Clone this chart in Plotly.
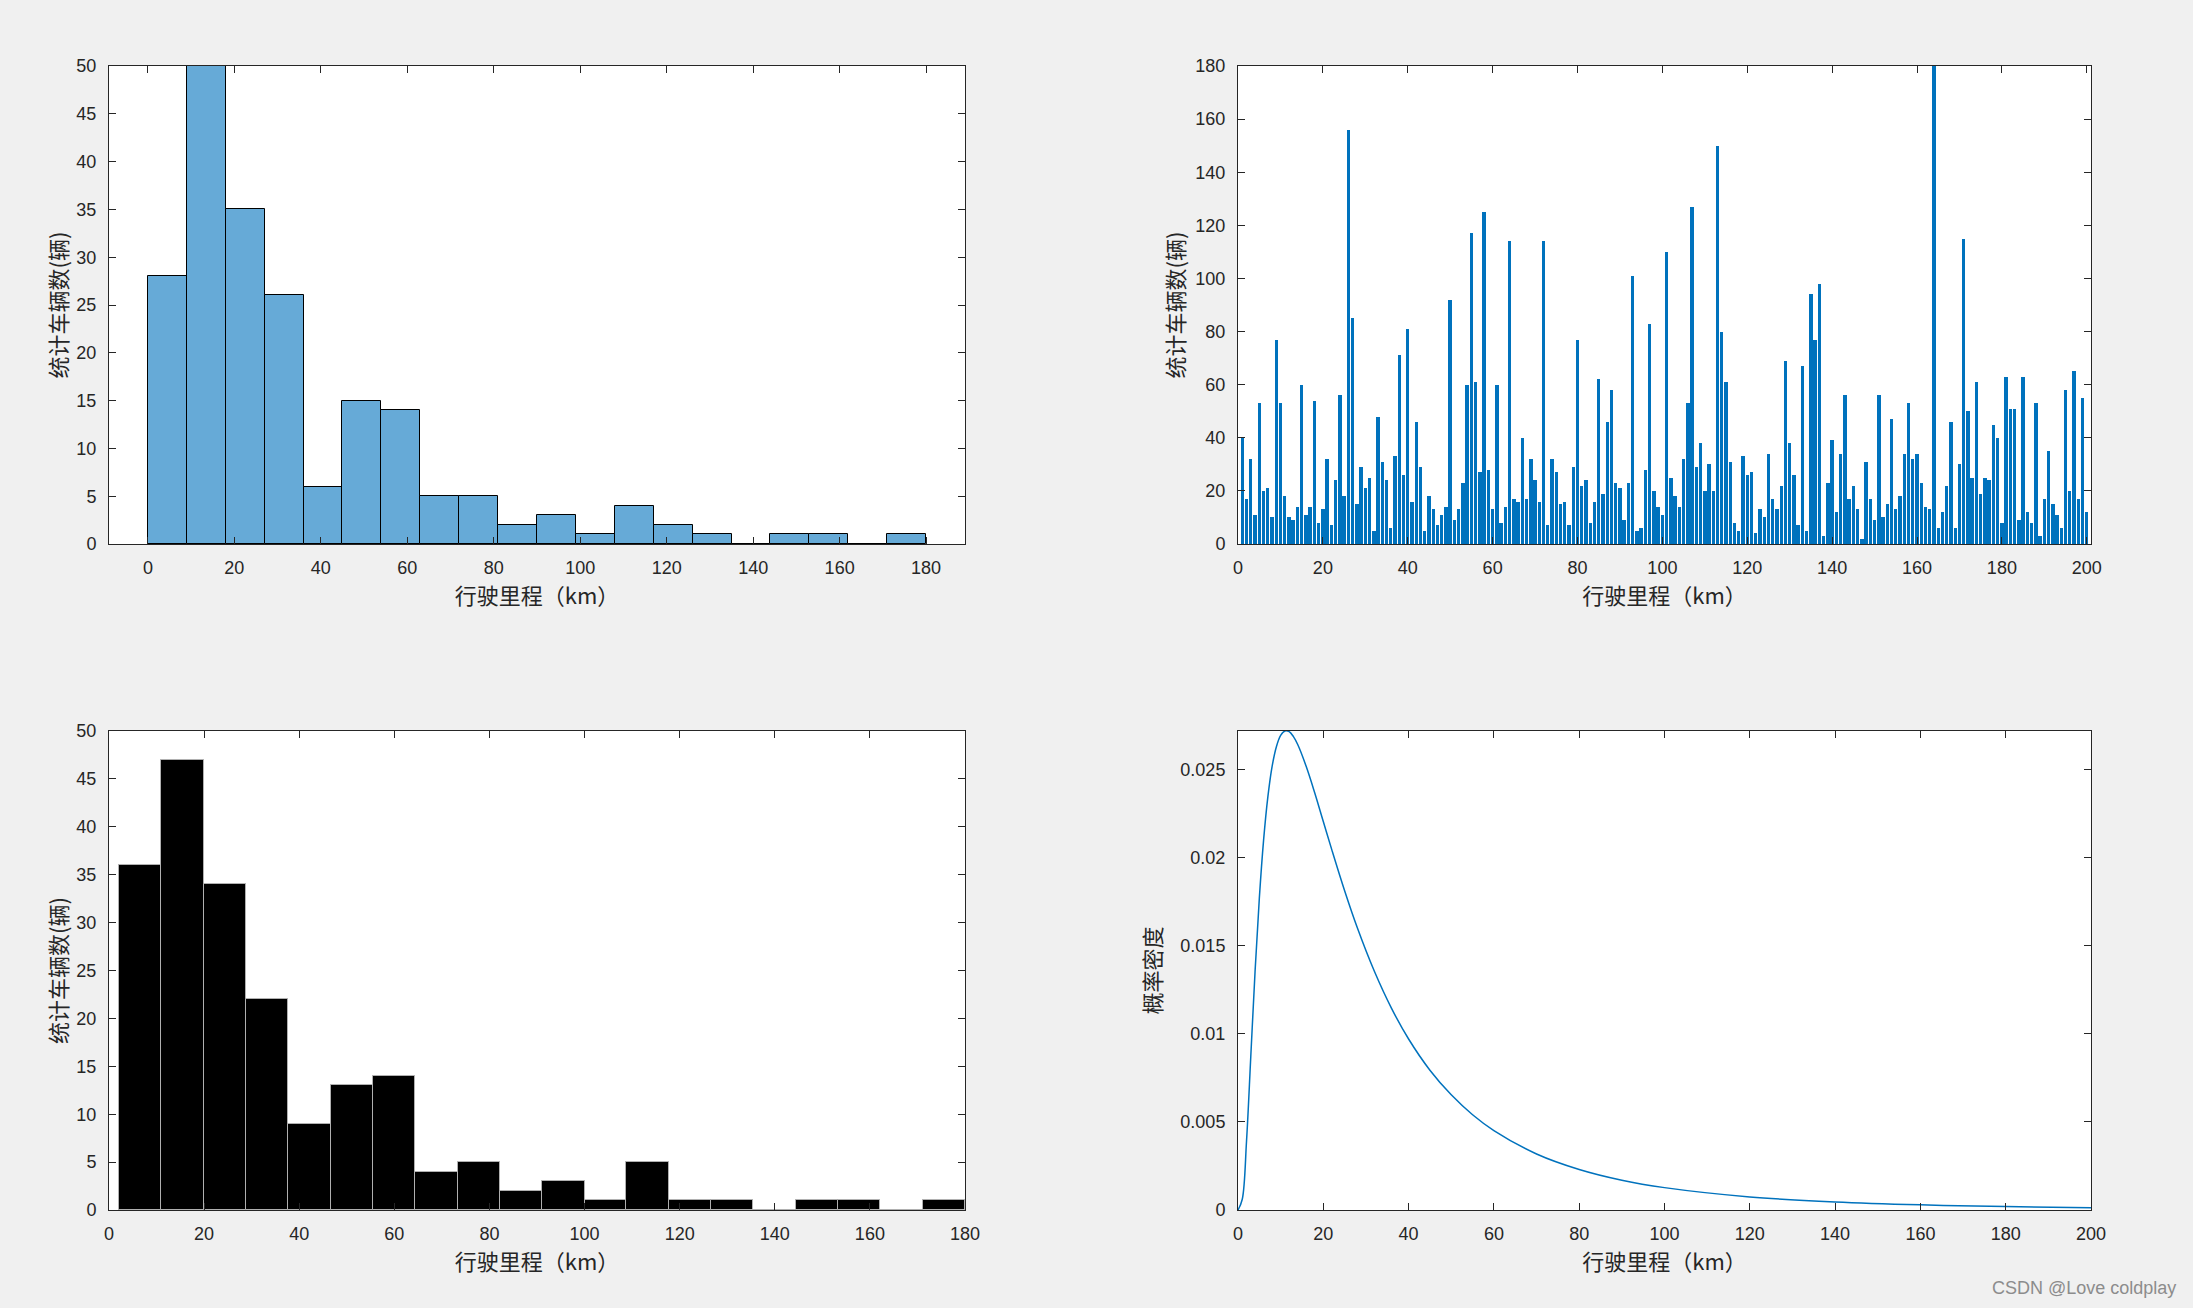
import plotly.graph_objects as go
import numpy as np

# ---------------- data ----------------
# top-left histogram (20 bins, width 9, 0..180)
hist1_edges = [0, 9, 18, 27, 36, 45, 54, 63, 72, 81, 90, 99, 108, 117, 126, 135, 144, 153, 162, 171, 180]
hist1_counts = [28, 50, 35, 26, 6, 15, 14, 5, 5, 2, 3, 1, 4, 2, 1, 0, 1, 1, 0, 1]

# top-right: per-vehicle mileage, vehicles 1..200
veh_idx = list(range(1, 201))
veh_km = [
    40, 17, 32, 11, 53, 20, 21, 10, 77, 53,
    18, 10, 9, 14, 60, 11, 14, 54, 8, 13,
    32, 7, 24, 56, 18, 156, 85, 15, 29, 21,
    25, 5, 48, 31, 24, 6, 33, 71, 26, 81,
    16, 46, 29, 5, 18, 13, 7, 11, 14, 92,
    9, 13, 23, 60, 117, 61, 27, 125, 28, 13,
    60, 8, 14, 114, 17, 16, 40, 17, 32, 24,
    16, 114, 7, 32, 27, 15, 16, 7, 29, 77,
    22, 24, 8, 16, 62, 19, 46, 58, 23, 21,
    9, 23, 101, 5, 6, 28, 83, 20, 14, 11,
    110, 25, 18, 14, 32, 53, 127, 29, 38, 20,
    30, 20, 150, 80, 61, 31, 8, 5, 33, 26,
    27, 4, 13, 10, 34, 17, 13, 22, 69, 38,
    26, 7, 67, 5, 94, 77, 98, 3, 23, 39,
    12, 34, 56, 17, 22, 13, 2, 31, 17, 9,
    56, 10, 15, 47, 13, 18, 34, 53, 32, 34,
    23, 14, 13, 190, 6, 12, 22, 46, 6, 30,
    115, 50, 25, 61, 19, 25, 24, 45, 40, 8,
    63, 51, 51, 9, 63, 12, 8, 53, 3, 17,
    35, 15, 11, 6, 58, 20, 65, 17, 55, 12,
]

# bottom-left histogram (20 bins from ~2.1 to 180)
hist2_edges = [2.1, 11.0, 19.9, 28.8, 37.7, 46.6, 55.5, 64.4, 73.3, 82.2, 91.1,
               100.0, 108.8, 117.7, 126.6, 135.5, 144.4, 153.3, 162.2, 171.1, 180.0]
hist2_counts = [36, 47, 34, 22, 9, 13, 14, 4, 5, 2, 3, 1, 5, 1, 1, 0, 1, 1, 0, 1]

# bottom-right: probability density curve
pdf_x = [0, 1, 2, 3, 4, 5, 6, 7, 8, 9, 10, 11, 12, 13, 14, 16, 18, 20, 22, 25, 28, 32,
         36, 40, 45, 50, 55, 60, 70, 80, 90, 100, 120, 140, 160, 180, 200]
pdf_y = [0, 0.00061, 0.00392, 0.00873, 0.01354, 0.0177, 0.0210, 0.02346, 0.02519, 0.02631,
         0.02695, 0.02720, 0.02716, 0.02688, 0.02643, 0.02518, 0.02368, 0.02206, 0.02045,
         0.01813, 0.01601, 0.01354, 0.01145, 0.00971, 0.00794, 0.00654, 0.00541, 0.00451,
         0.00318, 0.0023, 0.00169, 0.00127, 0.000742, 0.000457, 0.000293, 0.000194, 0.000132]

x_label = "行驶里程（km）"
y_label_count = "统计车辆数(辆)"
y_label_pdf = "概率密度"

# ---------------- figure ----------------
W, H = 2193, 1308
fig = go.Figure()

e1 = np.array(hist1_edges)
fig.add_trace(go.Bar(x=(e1[:-1] + e1[1:]) / 2, y=hist1_counts, width=np.diff(e1),
                     marker=dict(color="#66AAD7", line=dict(color="#000000", width=1)),
                     xaxis="x", yaxis="y", showlegend=False))

fig.add_trace(go.Bar(x=veh_idx, y=veh_km, width=0.8,
                     marker=dict(color="#0072BD", line=dict(width=0)),
                     xaxis="x2", yaxis="y2", showlegend=False))

e2 = np.array(hist2_edges)
fig.add_trace(go.Bar(x=(e2[:-1] + e2[1:]) / 2, y=hist2_counts, width=np.diff(e2),
                     marker=dict(color="#000000", line=dict(color="#B0B0B0", width=1)),
                     xaxis="x3", yaxis="y3", showlegend=False))

fig.add_trace(go.Scatter(x=pdf_x, y=pdf_y, mode="lines", line=dict(color="#0072BD", width=1.5, shape="spline"),
                         xaxis="x4", yaxis="y4", showlegend=False))

tick_font = dict(family="Liberation Sans, Arial, sans-serif", size=18, color="#262626")
label_font = dict(family="Noto Sans CJK SC", size=22, color="#262626")

def ax(domain, anchor, rng, dtick, title=None, tickvals=None, ticktext=None, standoff=8, lblgap=7):
    d = dict(domain=domain, anchor=anchor, range=rng, showline=True, linecolor="#262626", linewidth=1,
             mirror="ticks", ticks="inside", ticklen=7, tickcolor="#262626", tickwidth=1,
             showgrid=False, zeroline=False, tickfont=tick_font, fixedrange=True, automargin=False,
             ticklabelstandoff=lblgap)
    if dtick is not None:
        d["dtick"] = dtick
        d["tick0"] = 0
    if tickvals is not None:
        d["tickmode"] = "array"
        d["tickvals"] = tickvals
        d["ticktext"] = ticktext
    if title:
        d["title"] = dict(text=title, font=label_font, standoff=standoff)
    return d

xd_l = [109 / W, 965 / W]
xd_r = [1238 / W, 2091 / W]
yd_t = [1 - 544 / H, 1 - 66 / H]
yd_b = [1 - 1210 / H, 1 - 731 / H]

fig.update_layout(
    width=W, height=H, autosize=False,
    paper_bgcolor="#F0F0F0", plot_bgcolor="#FFFFFF",
    margin=dict(l=0, r=0, t=0, b=0, pad=0, autoexpand=False),
    bargap=0,
    xaxis=ax(xd_l, "y", [-9, 189], 20, x_label, lblgap=7),
    yaxis=ax(yd_t, "x", [0, 50], 5, y_label_count, standoff=2, lblgap=8),
    xaxis2=ax(xd_r, "y2", [0, 201], 20, x_label, lblgap=7),
    yaxis2=ax(yd_t, "x2", [0, 180], 20, y_label_count, standoff=4, lblgap=8),
    xaxis3=ax(xd_l, "y3", [0, 180], 20, x_label, lblgap=7),
    yaxis3=ax(yd_b, "x3", [0, 50], 5, y_label_count, standoff=2, lblgap=8),
    xaxis4=ax(xd_r, "y4", [0, 200], 20, x_label, lblgap=7),
    yaxis4=ax(yd_b, "x4", [0, 0.0272], None, y_label_pdf, standoff=12, lblgap=8,
              tickvals=[0, 0.005, 0.01, 0.015, 0.02, 0.025],
              ticktext=["0", "0.005", "0.01", "0.015", "0.02", "0.025"]),
    annotations=[dict(text="CSDN @Love coldplay", x=2178 / W, y=1 - 1288 / H, xref="paper", yref="paper",
                      xanchor="right", yanchor="middle", showarrow=False,
                      font=dict(family="Liberation Sans, Arial, sans-serif", size=18, color="#8C8C8C"))],
)

fig.write_html("out.html", config={"displayModeBar": False},
               post_script="document.body.style.margin='0';document.body.style.padding='0';"
                           "document.body.style.background='#F0F0F0';document.body.style.overflow='hidden';")
